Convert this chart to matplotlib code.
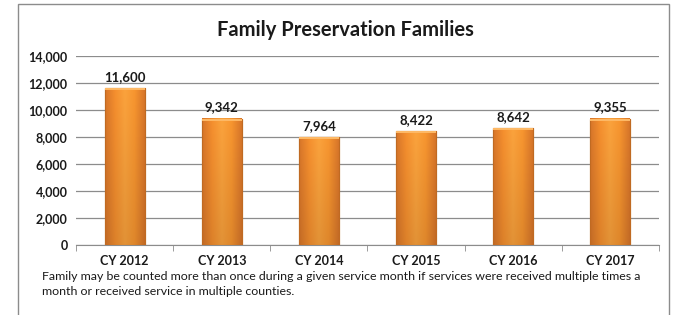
import numpy as np
import matplotlib
matplotlib.use("Agg")
import matplotlib.pyplot as plt
from matplotlib.colors import LinearSegmentedColormap
from matplotlib.patches import Rectangle
from matplotlib.ticker import FuncFormatter

# ---- data ----
years = ["CY 2012", "CY 2013", "CY 2014", "CY 2015", "CY 2016", "CY 2017"]
families = [11600, 9342, 7964, 8422, 8642, 9355]
title = "Family Preservation Families"
note = ("Family may be counted more than once during a given service month if services were received multiple times a\n"
        "month or received service in multiple counties.")

plt.rcParams["font.family"] = ["Lato", "DejaVu Sans"]

W, H = 673, 315
fig = plt.figure(figsize=(W / 100, H / 100), dpi=100)

# outer chart border
fig.patches.append(Rectangle((18 / W, -0.1), (669 - 18) / W, 1.1 - 4 / H,
                             transform=fig.transFigure, fill=False,
                             edgecolor="#8c8c8c", lw=1.0))

ax = fig.add_axes([76 / W, 1 - 245 / H, (659 - 76) / W, (245 - 56) / H])
x = np.arange(len(years))
bw = 0.41

bars = ax.bar(x, families, width=bw, color="#f7932f", edgecolor="#c86e22",
              linewidth=0.8, zorder=3)

# cylinder-ish shading inside each bar
cmap = LinearSegmentedColormap.from_list(
    "orng", ["#d8762a", "#f58f2e", "#fba33d", "#f7952f", "#d8762a"])
horiz = np.linspace(0, 1, 64)
vert = np.linspace(1, 0.9, 64)[:, None]
for b in bars:
    x0, w_, h_ = b.get_x(), b.get_width(), b.get_height()
    rgb = cmap(horiz)[None, :, :3] * vert[:, :, None]
    ax.imshow(rgb, extent=(x0, x0 + w_, 0, h_), aspect="auto", zorder=3.5,
              origin="upper")
    ax.add_patch(Rectangle((x0, 0), w_, h_, fill=False, edgecolor="#c06a22",
                           lw=0.8, zorder=4))
    ax.add_patch(Rectangle((x0, h_ - 140), w_, 140, color="#fdb865", lw=0,
                           zorder=4))

for xi, v in zip(x, families):
    ax.text(xi, v + 400, f"{v:,}", ha="center", va="bottom",
            fontsize=9.5, fontweight="bold", color="#1a1a1a", zorder=5)

ax.set_xlim(-0.5, len(years) - 0.5)
ax.set_ylim(0, 14000)
ax.set_yticks(np.arange(0, 14001, 2000))
ax.yaxis.set_major_formatter(FuncFormatter(lambda v, p: f"{int(v):,}"))
ax.set_xticks(x)
ax.set_xticklabels(years)
ax.set_xticks(np.arange(-0.5, len(years)), minor=True)
ax.tick_params(axis="x", which="major", length=0, pad=7)
ax.tick_params(axis="x", which="minor", length=4, color="#8c8c8c")
ax.tick_params(axis="y", length=0, pad=6)
for lab in ax.get_xticklabels() + ax.get_yticklabels():
    lab.set_fontweight("bold")
    lab.set_fontsize(9)
    lab.set_color("#1a1a1a")

ax.grid(axis="y", color="#8c8c8c", lw=0.9, zorder=0)
for s in ["top", "right", "left"]:
    ax.spines[s].set_visible(False)
ax.spines["bottom"].set_color("#8c8c8c")

fig.text(345 / W, 1 - 30 / H, title, ha="center", va="center",
         fontsize=14.5, fontweight="bold", color="#1a1a1a")
fig.text(42 / W, 1 - 271 / H, note, ha="left", va="top", fontsize=8.9,
         color="#1a1a1a", linespacing=1.4)

fig.savefig("out.png", dpi=100)
